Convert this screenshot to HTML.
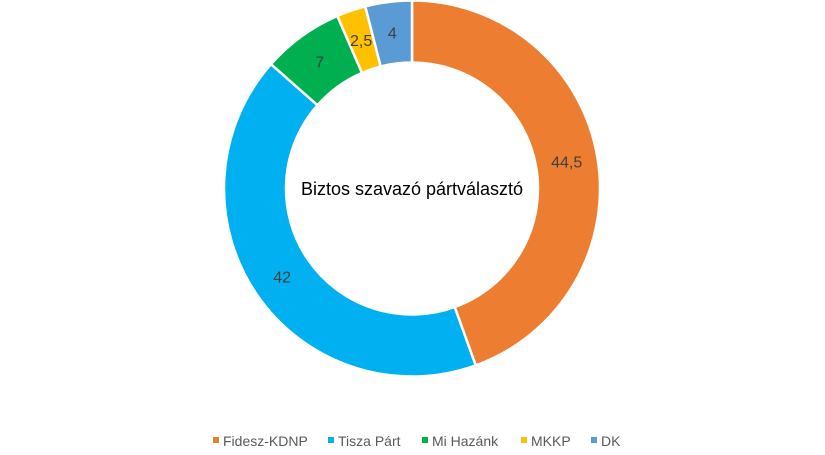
<!DOCTYPE html>
<html><head><meta charset="utf-8"><style>
body{margin:0;background:#fff;font-family:"Liberation Sans",sans-serif}
svg text{font-family:"Liberation Sans",sans-serif}
</style></head><body>
<svg width="825" height="450" viewBox="0 0 825 450">
<g id="slices"></g>
<g id="labels"></g>
<text x="412" y="195" text-anchor="middle" font-size="18" fill="#000">Biztos szavazó pártválasztó</text>
<g id="legend"></g>
</svg>
<script>
const categories=["Fidesz-KDNP","Tisza Párt","Mi Hazánk","MKKP","DK"];
const values=[44.5,42,7,2.5,4];
const labels=["44,5","42","7","2,5","4"];
const colors=["#ED7D31","#00B0F0","#00B050","#FFC000","#5B9BD5"];
const NS="http://www.w3.org/2000/svg";
const cx=412,cy=188.5,R=188,r=126;
const total=values.reduce((a,b)=>a+b,0);
function pt(a,rad){return [cx+rad*Math.sin(a),cy-rad*Math.cos(a)];}
let acc=0;
const gs=document.getElementById('slices'),gl=document.getElementById('labels'),gg=document.getElementById('legend');
values.forEach((v,i)=>{
  const a0=acc/total*2*Math.PI;acc+=v;const a1=acc/total*2*Math.PI;
  const large=(a1-a0)>Math.PI?1:0;
  const p0=pt(a0,R),p1=pt(a1,R),q1=pt(a1,r),q0=pt(a0,r);
  const p=document.createElementNS(NS,'path');
  p.setAttribute('d',`M${p0[0]},${p0[1]} A${R},${R} 0 ${large} 1 ${p1[0]},${p1[1]} L${q1[0]},${q1[1]} A${r},${r} 0 ${large} 0 ${q0[0]},${q0[1]} Z`);
  p.setAttribute('fill',colors[i]);p.setAttribute('stroke','#fff');p.setAttribute('stroke-width','2.5');
  
  
  gs.appendChild(p);
  const m=pt((a0+a1)/2,(R+r)/2);
  const t=document.createElementNS(NS,'text');
  t.setAttribute('x',m[0]);t.setAttribute('y',m[1]+6);t.setAttribute('text-anchor','middle');
  t.setAttribute('font-size','16');t.setAttribute('fill','#404040');t.textContent=labels[i];
  
  
  gl.appendChild(t);
});
const lx=[213,328,422,521,591];
categories.forEach((c,i)=>{
  const g=document.createElementNS(NS,'g');
  
  
  const s=document.createElementNS(NS,'rect');
  s.setAttribute('x',lx[i]);s.setAttribute('y',437);s.setAttribute('width',6);s.setAttribute('height',6);s.setAttribute('fill',colors[i]);
  const t=document.createElementNS(NS,'text');
  t.setAttribute('x',lx[i]+10);t.setAttribute('y',446);t.setAttribute('font-size','14');t.setAttribute('fill','#595959');t.textContent=c;
  g.appendChild(s);g.appendChild(t);gg.appendChild(g);
});
</script>
</body></html>
